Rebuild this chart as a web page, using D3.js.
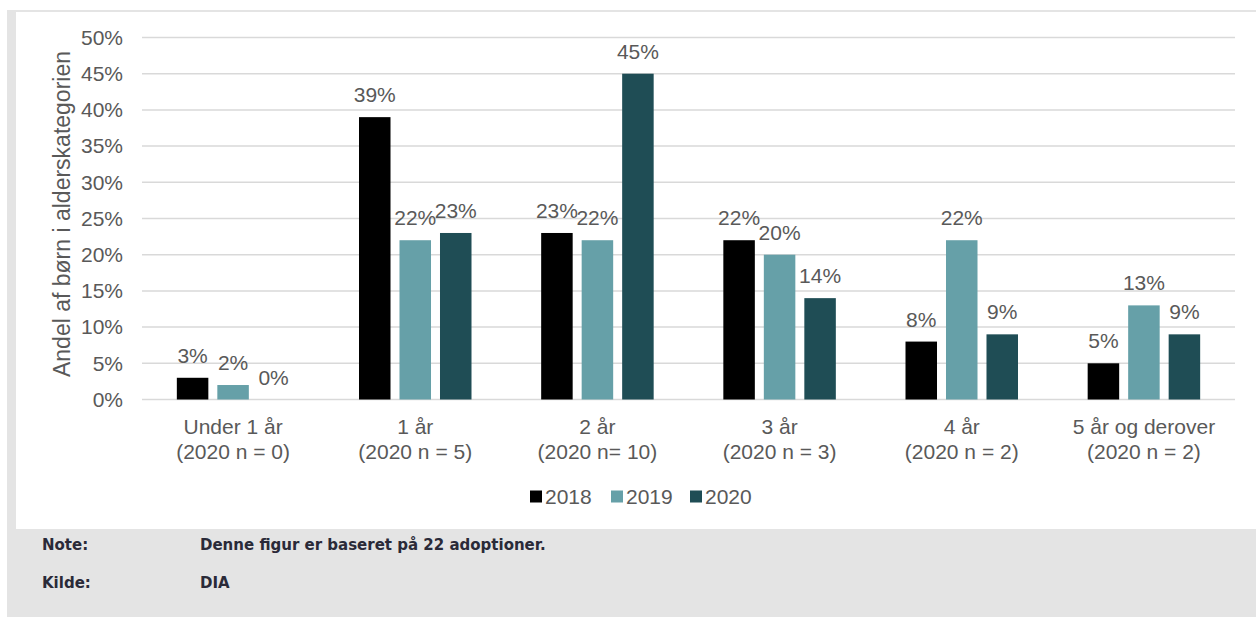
<!DOCTYPE html>
<html><head><meta charset="utf-8">
<script src="https://cdn.jsdelivr.net/npm/d3@7"></script>
<style>body{margin:0;background:#fff;overflow:hidden}svg{display:block}</style>
</head><body>
<script>
const categories = [["Under 1 år","(2020 n = 0)"],["1 år","(2020 n = 5)"],["2 år","(2020 n= 10)"],["3 år","(2020 n = 3)"],["4 år","(2020 n = 2)"],["5 år og derover","(2020 n = 2)"]];
const series = ["2018","2019","2020"];
const values2018 = [3,39,23,22,8,5];
const values2019 = [2,22,22,20,22,13];
const values2020 = [0,23,45,14,9,9];
const yTicks = [0,5,10,15,20,25,30,35,40,45,50];
const yTitle = "Andel af børn i alderskategorien";
const noteLabel = "Note:", noteText = "Denne figur er baseret på 22 adoptioner.";
const sourceLabel = "Kilde:", sourceText = "DIA";

const colors = {"2018":"#000000","2019":"#66a0a8","2020":"#1f4d55"};
const W=1256,H=617;
const svg=d3.select("body").append("svg").attr("width",W).attr("height",H);
const font="'Liberation Sans', Arial, sans-serif";
const fs=21;

// frame
svg.append("rect").attr("x",7).attr("y",10).attr("width",W-7).attr("height",H-10).attr("fill","#e4e4e4");
svg.append("rect").attr("x",16).attr("y",12).attr("width",W-16).attr("height",517).attr("fill","#ffffff");

const x0=d3.scaleBand().domain(categories.map((c,i)=>i)).range([142,1235]).padding(0);
const x1=d3.scaleBand().domain(series).range([0,112.5]).paddingInner(0.222).paddingOuter(0);
const y=d3.scaleLinear().domain([0,50]).range([399.5,37.5]);

// gridlines
svg.append("g").selectAll("line").data(yTicks).join("line")
  .attr("x1",142).attr("x2",1235).attr("y1",d=>y(d)).attr("y2",d=>y(d))
  .attr("stroke","#d9d9d9").attr("stroke-width",1.5);

// y axis labels via d3 axis
const yAxis=svg.append("g").attr("transform","translate(123,0)")
  .call(d3.axisLeft(y).tickValues(yTicks).tickSize(0).tickPadding(0).tickFormat(d=>d+"%"));
yAxis.select(".domain").remove();
yAxis.selectAll("text").attr("font-family",font).attr("font-size",fs).attr("fill","#595959");

// y title
svg.append("text").attr("transform","translate(62,214) rotate(-90)")
  .attr("text-anchor","middle").attr("dy","0.35em")
  .attr("font-family",font).attr("font-size",23).attr("fill","#595959").text(yTitle);

const data=series.map((s,si)=>({s,vals:[values2018,values2019,values2020][si]}));
const groupOffset=(x0.bandwidth()-112.5)/2;

const bars=svg.append("g");
data.forEach(d=>{
  d.vals.forEach((v,i)=>{
    const bx=x0(i)+groupOffset+x1(d.s);
    bars.append("rect").attr("x",bx).attr("y",y(v)).attr("width",x1.bandwidth())
      .attr("height",y(0)-y(v)).attr("fill",colors[d.s]);
    bars.append("text").attr("x",bx+x1.bandwidth()/2).attr("y",y(v)-15)
      .attr("text-anchor","middle").attr("font-family",font).attr("font-size",fs)
      .attr("fill","#595959").text(v+"%");
  });
});

// x labels
const xl=svg.append("g");
categories.forEach((c,i)=>{
  const cx=x0(i)+x0.bandwidth()/2;
  c.forEach((line,li)=>{
    xl.append("text").attr("x",cx).attr("y",434+li*25).attr("text-anchor","middle")
      .attr("font-family",font).attr("font-size",fs).attr("fill","#595959").text(line);
  });
});

// legend
const legX=[530,611,690];
series.forEach((s,i)=>{
  svg.append("rect").attr("x",legX[i]).attr("y",490.5).attr("width",12).attr("height",12).attr("fill",colors[s]);
  svg.append("text").attr("x",legX[i]+15).attr("y",504).attr("font-family",font)
    .attr("font-size",fs).attr("fill","#595959").text(s);
});

// notes
const nf="'DejaVu Sans', Verdana, sans-serif";
[[noteLabel,noteText,549.5],[sourceLabel,sourceText,587.5]].forEach(r=>{
  svg.append("text").attr("x",42).attr("y",r[2]).attr("font-family",nf).attr("font-size",15).attr("font-weight","bold").attr("fill","#2a2a38").text(r[0]);
  svg.append("text").attr("x",200).attr("y",r[2]).attr("font-family",nf).attr("font-size",15).attr("font-weight","bold").attr("fill","#2a2a38").text(r[1]);
});
</script>
</body></html>
